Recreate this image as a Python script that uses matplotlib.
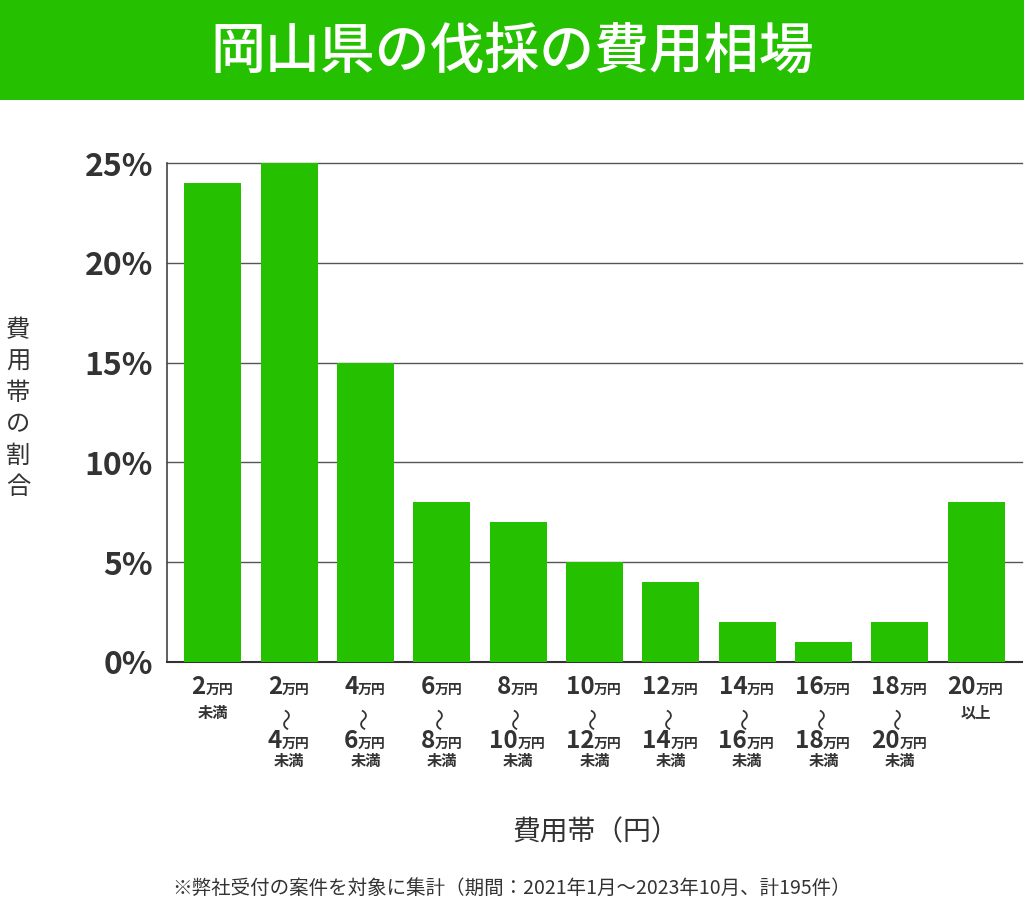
import matplotlib
matplotlib.use("Agg")
import matplotlib.pyplot as plt
from matplotlib.patches import Rectangle
from matplotlib.transforms import offset_copy

plt.rcParams['font.family'] = ['Noto Sans CJK JP', 'DejaVu Sans']

# ---- data ----
title = "岡山県の伐採の費用相場"
values = [24, 25, 15, 8, 7, 5, 4, 2, 1, 2, 8]
low_nums = ["2", "2", "4", "6", "8", "10", "12", "14", "16", "18", "20"]
high_nums = [None, "4", "6", "8", "10", "12", "14", "16", "18", "20", None]
suffixes = ["未満", "未満", "未満", "未満", "未満", "未満", "未満", "未満", "未満", "未満", "以上"]
unit = "万円"
yticks = [0, 5, 10, 15, 20, 25]
ytick_labels = ["0%", "5%", "10%", "15%", "20%", "25%"]
ylabel = "費用帯の割合"
xlabel = "費用帯（円）"
note = "※弊社受付の案件を対象に集計（期間：2021年1月～2023年10月、計195件）"

GREEN = "#25C000"
DARK = "#333333"

fig = plt.figure(figsize=(10.24, 9.08), dpi=100)
W, H = 1024, 908

# title banner
fig.patches.append(Rectangle((0, 1 - 100 / H), 1, 100 / H, transform=fig.transFigure,
                             facecolor=GREEN, edgecolor="none", zorder=0))
fig.text(0.5, 1 - 52 / H, title, ha="center", va="center", color="white",
         fontsize=39.5, fontweight="medium")

AX_H = 662 - 163
ax = fig.add_axes([167 / W, 1 - 662 / H, (1022 - 167) / W, AX_H / H])
x = list(range(len(values)))
ax.bar(x, values, width=0.75, color=GREEN, zorder=3)
ax.set_xlim(-0.6, 10.6)
ax.set_ylim(0, 25)
ax.set_yticks(yticks)
ax.set_yticklabels(ytick_labels, fontsize=23, fontweight="bold", color=DARK)
ax.tick_params(axis="y", length=0, pad=10)
ax.set_xticks([])
for y in yticks[1:]:
    ax.axhline(y, color="#555555", linewidth=1.0, zorder=1, clip_on=False)
for s in ["top", "right"]:
    ax.spines[s].set_visible(False)
ax.spines["left"].set_color("#444444")
ax.spines["bottom"].set_color("#333333")
ax.spines["left"].set_linewidth(1.2)
ax.spines["bottom"].set_linewidth(1.5)

tr = ax.get_xaxis_transform()
renderer = fig.canvas.get_renderer()


def num_unit(xi, dy_px, num):
    t1 = ax.text(xi, 0, num, transform=tr, fontsize=17.5, fontweight="bold",
                 color=DARK, ha="right", va="baseline", clip_on=False)
    t2 = ax.text(xi, 0, unit, transform=tr, fontsize=10, fontweight="bold",
                 color=DARK, ha="left", va="baseline", clip_on=False)
    w1 = t1.get_window_extent(renderer).width
    w2 = t2.get_window_extent(renderer).width
    split = round((w1 - w2) / 2)
    t1.set_transform(offset_copy(tr, fig=fig, x=split, y=-dy_px, units="dots"))
    t2.set_transform(offset_copy(tr, fig=fig, x=split - 0.5, y=-dy_px, units="dots"))


def center_text(xi, dy_px, s, **kw):
    ax.text(xi, 0, s, transform=offset_copy(tr, fig=fig, x=0, y=-dy_px, units="dots"),
            ha="center", va="center", color=DARK, clip_on=False, **kw)


for i in x:
    num_unit(i, 32, low_nums[i])
    if high_nums[i] is None:
        center_text(i, 51, suffixes[i], fontsize=11, fontweight="bold")
    else:
        center_text(i, 57, "〜", fontsize=16, rotation=90)
        num_unit(i, 86, high_nums[i])
        center_text(i, 99, suffixes[i], fontsize=11, fontweight="bold")

# vertical y label
for k, ch in enumerate(ylabel):
    fig.text(18 / W, 1 - (330 + k * 31.5) / H, ch, ha="center", va="center",
             fontsize=17.5, color=DARK)

fig.text(596 / W, 1 - 832 / H, xlabel, ha="center", va="center", fontsize=20, color=DARK)
fig.text(512 / W, 1 - 888 / H, note, ha="center", va="center", fontsize=14, color=DARK)

fig.savefig("out.png", dpi=100, facecolor="white")
